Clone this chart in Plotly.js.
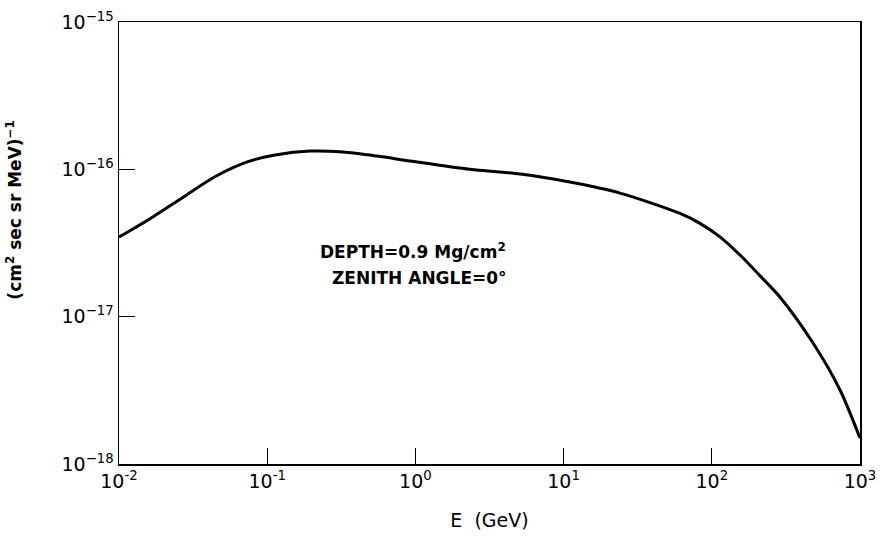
<!DOCTYPE html>
<html>
<head>
<meta charset="utf-8">
<script src="https://cdn.plot.ly/plotly-3.0.1.min.js"></script>
<style>html,body{margin:0;padding:0;background:#fff;}#chart{width:884px;height:538px;}</style>
</head>
<body>
<div id="chart"></div>
<script>
// Energy (GeV)
const energy = [0.01, 0.0157, 0.0266, 0.0444, 0.0742, 0.113, 0.195, 0.324, 0.551, 0.92, 2.33, 5.08, 11.0, 24.0, 61.0, 83.2, 113.5, 155, 211, 288, 482, 733, 1000];
// Intensity (cm^2 sec sr MeV)^-1
const flux = [3.47e-17, 4.53e-17, 6.4e-17, 8.91e-17, 1.127e-16, 1.25e-16, 1.33e-16, 1.31e-16, 1.23e-16, 1.14e-16, 1.00e-16, 9.29e-17, 8.20e-17, 6.90e-17, 5.02e-17, 4.30e-17, 3.48e-17, 2.62e-17, 1.90e-17, 1.36e-17, 6.62e-18, 3.18e-18, 1.50e-18];

const xTickVals = [0.01, 0.1, 1, 10, 100, 1000];
const xTickText = ["10<sup>-2</sup>", "10<sup>-1</sup>", "10<sup>0</sup>", "10<sup>1</sup>", "10<sup>2</sup>", "10<sup>3</sup>"];
const yTickVals = [1e-18, 1e-17, 1e-16, 1e-15];
const yTickText = ["10<sup>−18</sup>", "10<sup>−17</sup>", "10<sup>−16</sup>", "10<sup>−15</sup>"];

const fontFam = "DejaVu Sans, Liberation Sans, sans-serif";

const trace = {
  x: energy, y: flux, type: "scatter", mode: "lines",
  line: {color: "#000", width: 3, shape: "spline", smoothing: 0.8},
  hoverinfo: "none"
};

const layout = {
  width: 884, height: 538,
  margin: {l: 119, r: 24, t: 22, b: 74},
  paper_bgcolor: "#fff", plot_bgcolor: "#fff",
  showlegend: false,
  font: {family: fontFam, color: "#000", size: 18},
  xaxis: {
    type: "log", range: [-2, 3],
    tickvals: xTickVals, ticktext: xTickText,
    ticks: "inside", ticklen: 16, tickwidth: 1.2, tickcolor: "#000",
    showline: true, linecolor: "#000", linewidth: 1.5, mirror: true,
    showgrid: false, zeroline: false,
    tickfont: {family: fontFam, size: 19, color: "#000"},
    title: {text: "E  (GeV)", font: {family: fontFam, size: 19, color: "#000"}, standoff: 22}
  },
  yaxis: {
    type: "log", range: [-18, -15],
    tickvals: yTickVals, ticktext: yTickText,
    ticks: "inside", ticklen: 16, tickwidth: 1.2, tickcolor: "#000",
    showline: true, linecolor: "#000", linewidth: 1.5, mirror: true,
    showgrid: false, zeroline: false,
    tickfont: {family: fontFam, size: 19, color: "#000"}
  },
  annotations: [
    {xref: "paper", yref: "paper", x: -0.142, y: 0.575, xanchor: "center", yanchor: "middle", showarrow: false,
     textangle: -90,
     text: "<b>(cm<sup>2</sup> sec sr MeV)<sup>−1</sup></b>", font: {family: fontFam, size: 17, color: "#000"}},
    {xref: "paper", yref: "paper", x: 0.397, y: 0.482, xanchor: "center", yanchor: "middle", showarrow: false,
     text: "<b>DEPTH=0.9 Mg/cm<sup>2</sup></b>", font: {family: fontFam, size: 17, color: "#000"}},
    {xref: "paper", yref: "paper", x: 0.405, y: 0.42, xanchor: "center", yanchor: "middle", showarrow: false,
     text: "<b>ZENITH ANGLE=0°</b>", font: {family: fontFam, size: 17, color: "#000"}}
  ]
};

Plotly.newPlot("chart", [trace], layout, {staticPlot: true, displayModeBar: false});
</script>
</body>
</html>
